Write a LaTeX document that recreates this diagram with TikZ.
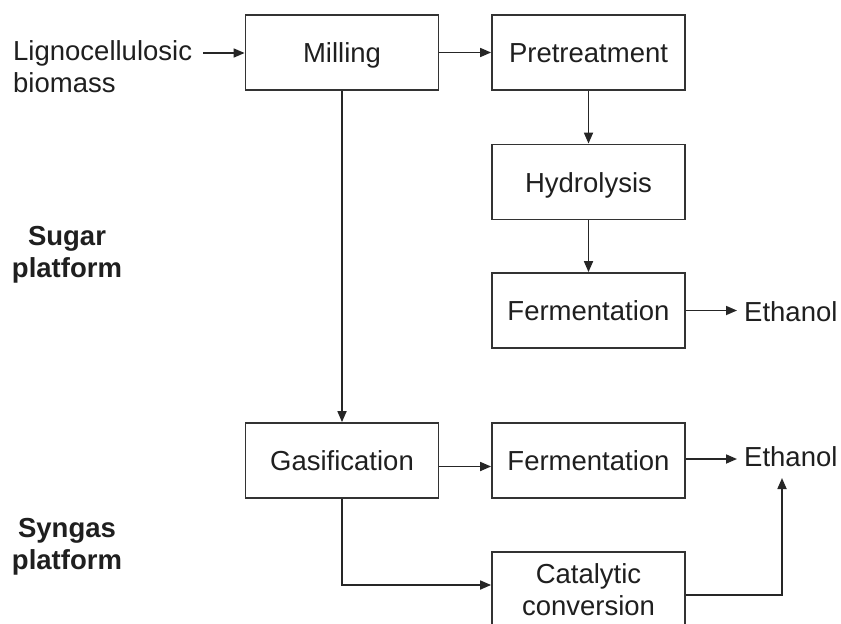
\documentclass[tikz,border=0pt]{standalone}
\usepackage{fontspec}
\setmainfont{Liberation Sans}
\usetikzlibrary{arrows.meta}
\begin{document}
\begin{tikzpicture}[x=1pt,y=-1pt,
  every node/.style={font=\fontsize{27.5}{32}\selectfont, text=black!88},
  proc/.style={draw=black!80, line width=1.8pt, minimum width=193pt, minimum height=75pt, inner sep=0pt, align=center, fill=white},
  oneline/.style={text height=20pt, text depth=0pt},
  flow/.style={draw=black!85, line width=1.7pt, -{Triangle[length=11pt,width=9pt]}},
  label/.style={align=left, inner sep=0pt},
  platform/.style={align=center, inner sep=0pt, font=\fontsize{27.5}{32}\selectfont\bfseries}]
\clip (0,0) rectangle (841,624);
\fill[white] (0,0) rectangle (841,624);

% process boxes
\node[proc,oneline] (mill)  at (342,52.5)   {Milling};
\node[proc,oneline] (pre)   at (588.5,52.5) {Pretreatment};
\node[proc,oneline] (hyd)   at (588.5,182)  {Hydrolysis};
\node[proc,oneline] (fer1)  at (588.5,310.5){Fermentation};
\node[proc,oneline] (gas)   at (342,460.5)  {Gasification};
\node[proc,oneline] (fer2)  at (588.5,460.5){Fermentation};
\node[proc] (cat)   at (588.5,589.5){Catalytic\\conversion};

% free text
\node[label, anchor=west] (bio) at (13,67) {Lignocellulosic\\biomass};
\node[label, anchor=west] (eth1) at (744,312) {Ethanol};
\node[label, anchor=west] (eth2) at (744,456.5) {Ethanol};
\node[platform] (sugar) at (67,255) {Sugar\\platform};
\node[platform] (syn)   at (67,547) {Syngas\\platform};

\coordinate (bioout) at (203,53);
\coordinate (ethin) at (782,478);

% connectors
\draw[flow] (bioout) -- (mill.west |- bioout);
\draw[flow] (mill) -- (pre);
\draw[flow] (pre) -- (hyd);
\draw[flow] (hyd) -- (fer1);
\draw[flow] (fer1.east) -- ([xshift=-7pt]eth1.west |- fer1.east);
\draw[flow] (mill) -- (gas);
\draw[flow] ([yshift=-6pt]gas.east) -- ([yshift=-6pt]fer2.west);
\draw[flow] ([yshift=1.5pt]fer2.east) -- ([xshift=-7pt,yshift=1.5pt]eth2.west |- fer2.east);
\draw[flow] (gas.south) |- ([yshift=4.5pt]cat.west);
\draw[flow] ([yshift=-5.5pt]cat.east) -| (ethin);
\end{tikzpicture}
\end{document}
